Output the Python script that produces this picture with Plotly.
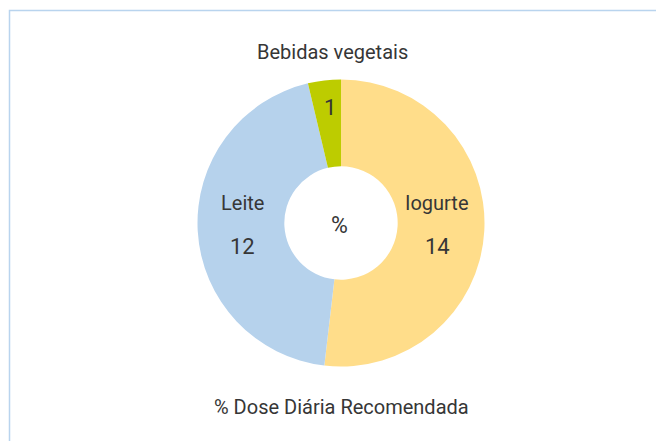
import plotly.graph_objects as go

categories = ["Iogurte", "Leite", "Bebidas vegetais"]
values = [14, 12, 1]
colors = ["#FFDD8A", "#B6D2EC", "#BDCC00"]
center_label = "%"
footer = "% Dose Diária Recomendada"

W, H = 664, 441
OFF = 8  # page body margin offset applied by the browser
TXT = "#363636"
FONT = "Roboto"


def px(x, y):
    return (x - OFF) / W, 1 - (y - OFF) / H


dx0, dy1 = px(197.5, 79.5)
dx1, dy0 = px(484.5, 366.5)

fig = go.Figure(go.Pie(
    labels=categories,
    values=values,
    marker=dict(colors=colors, line=dict(width=0)),
    hole=0.395,
    sort=False,
    direction="clockwise",
    rotation=0,
    textinfo="none",
    hoverinfo="label+value",
    domain=dict(x=[dx0, dx1], y=[dy0, dy1]),
    showlegend=False,
))

ann = []
label_pos = {"Iogurte": (437, 203), "Leite": (242, 203), "Bebidas vegetais": (332, 52)}
value_pos = {"Iogurte": (437, 246), "Leite": (242, 246), "Bebidas vegetais": (330, 107)}
for cat, v in zip(categories, values):
    x, y = px(*label_pos[cat])
    ann.append(dict(x=x, y=y, xref="paper", yref="paper", text=cat, showarrow=False,
                    xanchor="center", yanchor="middle", font=dict(family=FONT, size=20, color=TXT)))
    x, y = px(*value_pos[cat])
    ann.append(dict(x=x, y=y, xref="paper", yref="paper", text=str(v), showarrow=False,
                    xanchor="center", yanchor="middle", font=dict(family=FONT, size=22, color=TXT)))
x, y = px(339, 225)
ann.append(dict(x=x, y=y, xref="paper", yref="paper", text=center_label, showarrow=False,
                xanchor="center", yanchor="middle", font=dict(family=FONT, size=23, color=TXT)))
x, y = px(341, 407)
ann.append(dict(x=x, y=y, xref="paper", yref="paper", text=footer, showarrow=False,
                xanchor="center", yanchor="middle", font=dict(family=FONT, size=20, color=TXT)))

bx0, by1 = px(9.5, 10.5)

fig.update_layout(
    width=W, height=H,
    margin=dict(l=0, r=0, t=0, b=0),
    paper_bgcolor="white",
    plot_bgcolor="white",
    annotations=ann,
    shapes=[dict(type="rect", xref="paper", yref="paper",
                 x0=bx0, x1=1.2, y0=-0.2, y1=by1,
                 line=dict(color="#B9D4EE", width=1.5), fillcolor="rgba(0,0,0,0)", layer="below")],
)

fig.write_html("out.html")
